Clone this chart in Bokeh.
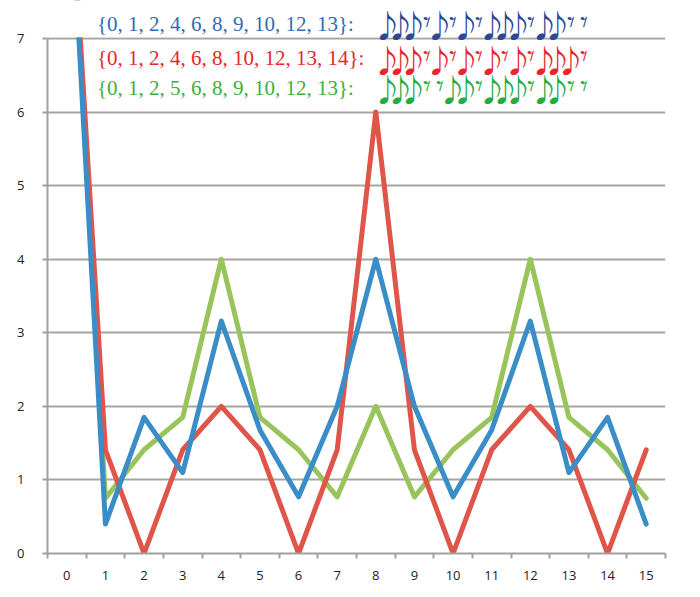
from bokeh.plotting import figure
from bokeh.models import Range1d, FixedTicker, Label, BoxAnnotation
from bokeh.embed import file_html
from bokeh.resources import INLINE

steps = list(range(16))
set_blue = [0, 1, 2, 4, 6, 8, 9, 10, 12, 13]
set_red = [0, 1, 2, 4, 6, 8, 10, 12, 13, 14]
set_green = [0, 1, 2, 5, 6, 8, 9, 10, 12, 13]

blue_vals = [10, 0.40, 1.85, 1.10, 3.16, 1.68, 0.77, 2.00, 4.00, 2.00, 0.77, 1.68, 3.16, 1.10, 1.85, 0.40]
red_vals = [10, 1.41, 0.00, 1.41, 2.00, 1.41, 0.00, 1.41, 6.00, 1.41, 0.00, 1.41, 2.00, 1.41, 0.00, 1.41]
green_vals = [10, 0.75, 1.41, 1.85, 4.00, 1.85, 1.41, 0.77, 2.00, 0.77, 1.41, 1.85, 4.00, 1.85, 1.41, 0.75]

y_ticks = list(range(8))
Y_MAX = 7

LINE_BLUE = "#3a8dc6"
LINE_RED = "#e0554a"
LINE_GREEN = "#99c45c"

p = figure(width=692, height=589, output_backend="svg", toolbar_location=None,
           x_range=Range1d(-0.5, 15.5), y_range=Range1d(0, 7.516),
           min_border_left=47, min_border_top=0, min_border_right=27, min_border_bottom=36)
p.outline_line_color = None
p.background_fill_color = "white"

p.line(steps, green_vals, line_color=LINE_GREEN, line_width=5, line_join="round", line_cap="round")
p.line(steps, red_vals, line_color=LINE_RED, line_width=5, line_join="round", line_cap="round")
p.line(steps, blue_vals, line_color=LINE_BLUE, line_width=5, line_join="round", line_cap="round")

# hide everything drawn above the top of the value axis
p.add_layout(BoxAnnotation(bottom=Y_MAX + 0.018, top=12, fill_color="white", fill_alpha=1.0, line_color=None))

# grid
p.xgrid.grid_line_color = None
p.ygrid.ticker = FixedTicker(ticks=y_ticks)
p.ygrid.grid_line_color = "#a6a6a0"
p.ygrid.grid_line_width = 2

# axes
for ax in (p.xaxis[0], p.yaxis[0]):
    ax.axis_line_color = "#a0a0a0"
    ax.axis_line_width = 2
    ax.major_tick_line_color = "#a0a0a0"
    ax.major_tick_line_width = 2
    ax.minor_tick_line_color = "#a0a0a0"
    ax.minor_tick_line_width = 2
    ax.major_label_text_font = "Open Sans"
    ax.major_label_text_font_size = "13px"
    ax.major_label_text_color = "#222222"

p.xaxis.ticker = FixedTicker(ticks=steps, minor_ticks=[s - 0.5 for s in steps] + [15.5])
p.xaxis.major_tick_out = 0
p.xaxis.major_tick_in = 0
p.xaxis.minor_tick_out = 5
p.xaxis.minor_tick_in = 0
p.xaxis.major_label_standoff = 12

p.yaxis.ticker = FixedTicker(ticks=y_ticks)
p.yaxis.bounds = (0, Y_MAX)
p.yaxis.major_tick_out = 5
p.yaxis.major_tick_in = 0
p.yaxis.minor_tick_line_color = None
p.yaxis.major_label_standoff = 18

# legend-like texts
rows = [
    (set_blue, 7.20, "#2f6db3", "#2c4796"),
    (set_red, 6.73, "#e8262b", "#e8262b"),
    (set_green, 6.33, "#3caf3c", "#22ac44"),
]
for s, yv, tcol, ncol in rows:
    txt = "{" + ", ".join(str(v) for v in s) + "}:"
    p.add_layout(Label(x=0.78, y=yv, text=txt, text_font="Liberation Serif",
                       text_font_size="21px", text_color=tcol, text_baseline="alphabetic"))
    for i in steps:
        if i in s:
            p.add_layout(Label(x=8.30 + i * 0.339, y=yv, text="\u266A", text_font="Noto Sans CJK JP",
                               text_font_size="31px", text_color=ncol, text_baseline="alphabetic",
                               text_align="center"))
        else:
            p.add_layout(Label(x=8.30 + i * 0.339, y=yv + 0.035, text="\U0001D13E", text_font="DejaVu Sans",
                               text_font_size="30px", text_color=ncol, text_baseline="middle",
                               text_align="center"))

open("out.html", "w").write(file_html(p, INLINE))
